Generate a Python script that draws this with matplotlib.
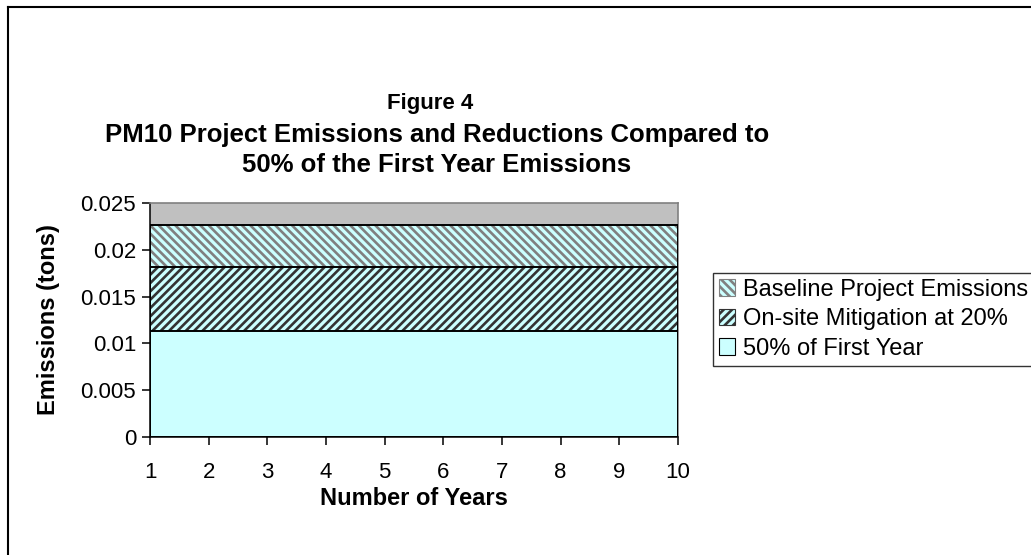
import matplotlib
matplotlib.use("Agg")
import matplotlib.pyplot as plt
from matplotlib.lines import Line2D
from matplotlib.patches import Patch

# Data
years = [1, 2, 3, 4, 5, 6, 7, 8, 9, 10]
baseline_emissions = [0.0227, 0.0227, 0.0227, 0.0227, 0.0227, 0.0227, 0.0227, 0.0227, 0.0227, 0.0227]
mitigated_emissions = [0.0182, 0.0182, 0.0182, 0.0182, 0.0182, 0.0182, 0.0182, 0.0182, 0.0182, 0.0182]
half_first_year = [0.01136, 0.01136, 0.01136, 0.01136, 0.01136, 0.01136, 0.01136, 0.01136, 0.01136, 0.01136]
series_labels = ["Baseline Project Emissions", "On-site Mitigation at 20%", "50% of First Year"]
y_ticks = [0, 0.005, 0.01, 0.015, 0.02, 0.025]
y_tick_labels = ["0", "0.005", "0.01", "0.015", "0.02", "0.025"]

plt.rcParams["font.family"] = ["Liberation Sans", "DejaVu Sans"]
plt.rcParams["hatch.linewidth"] = 1.9

W, H = 1031, 555
fig = plt.figure(figsize=(W / 100, H / 100), dpi=100)
fig.patch.set_facecolor("white")

ax = fig.add_axes([150 / W, 1 - 437 / H, (678 - 150) / W, (437 - 203) / H])
ax.set_facecolor("#c0c0c0")

cyan = "#ccffff"
hatch_styles = [
    ("#808080", "\\" * 4),
    ("#333333", "/" * 4),
    (None, None),
]
for vals, (hcol, hatch) in zip([baseline_emissions, mitigated_emissions, half_first_year],
                               hatch_styles):
    if hatch:
        ax.fill_between(years, 0, vals, facecolor=cyan, edgecolor=hcol,
                        hatch=hatch, linewidth=0, zorder=2)
    else:
        ax.fill_between(years, 0, vals, facecolor=cyan, linewidth=0, zorder=2)
    ax.fill_between(years, 0, vals, facecolor="none", edgecolor="black",
                    linewidth=1.4, zorder=3)

ax.set_xlim(1, 10)
ax.set_ylim(0, 0.025)
ax.set_xticks(years)
ax.set_xticklabels([str(y) for y in years])
ax.set_yticks(y_ticks)
ax.set_yticklabels(y_tick_labels)
ax.tick_params(axis="both", direction="out", length=6, width=1.1,
               labelsize=16, colors="black")
ax.tick_params(axis="x", pad=12)
ax.tick_params(axis="y", pad=4)

for side in ("left", "bottom"):
    ax.spines[side].set_color("black")
    ax.spines[side].set_linewidth(1.1)
for side in ("top", "right"):
    ax.spines[side].set_color("#808080")
    ax.spines[side].set_linewidth(1.2)

ax.set_xlabel("Number of Years", fontsize=17, fontweight="bold", labelpad=3)
ax.set_ylabel("Emissions (tons)", fontsize=17, fontweight="bold", labelpad=15)

# Titles
fig.text(430 / W, 1 - 104 / H, "Figure 4", ha="center", va="center",
         fontsize=16, fontweight="bold")
fig.text(437 / W, 1 - 135 / H, "PM10 Project Emissions and Reductions Compared to",
         ha="center", va="center", fontsize=18.5, fontweight="bold")
fig.text(437 / W, 1 - 165 / H, "50% of the First Year Emissions",
         ha="center", va="center", fontsize=18.5, fontweight="bold")

# Legend
leg_handles = [Patch(facecolor=cyan, edgecolor="black", linewidth=0.8,
                     hatch=("\\" * 4 if i == 0 else "/" * 4 if i == 1 else None))
               for i in range(3)]
leg = fig.legend(leg_handles, series_labels, loc="upper left",
                 bbox_to_anchor=(713 / W, 1 - 273 / H), bbox_transform=fig.transFigure,
                 fontsize=17, frameon=True, fancybox=False, edgecolor="black",
                 handlelength=0.7, handleheight=0.7, handletextpad=0.3,
                 labelspacing=0.32, borderpad=0.25, borderaxespad=0)
leg.get_frame().set_linewidth(1.0)
leg_hatch_cols = ["#808080", "#333333", "black"]
for patch, col in zip(leg.get_patches(), leg_hatch_cols):
    patch.set_edgecolor(col)

# Outer chart frame (left and top)
fig.add_artist(Line2D([7.5 / W, 7.5 / W], [0, 1 - 7 / H], color="black",
                      linewidth=1.5, transform=fig.transFigure))
fig.add_artist(Line2D([7.5 / W, 1], [1 - 7 / H, 1 - 7 / H], color="black",
                      linewidth=1.5, transform=fig.transFigure))

fig.savefig("out.png", dpi=100)
